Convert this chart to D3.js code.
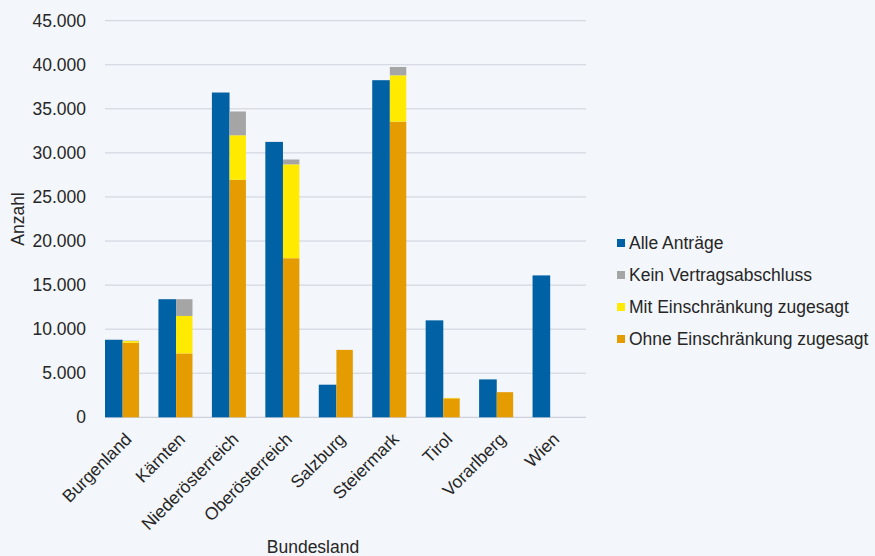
<!DOCTYPE html>
<html>
<head>
<meta charset="utf-8">
<script src="https://cdn.jsdelivr.net/npm/d3@7"></script>
<style>
  body { margin: 0; background: #f3f6fa; }
  svg { font-family: "Liberation Sans", Arial, sans-serif; }
</style>
</head>
<body>
<script>
// Chart data
var laender = ["Burgenland", "Kärnten", "Niederösterreich", "Oberösterreich",
    "Salzburg", "Steiermark", "Tirol", "Vorarlberg", "Wien"];
var alleAntraege = [8800, 13400, 36850, 31250, 3700, 38250, 11000, 4300, 16100];
var ohneEinschraenkung = [8450, 7250, 26950, 18050, 7650, 33550, 2150, 2850, 0];
var mitEinschraenkung = [200, 4250, 5050, 10650, 0, 5250, 50, 0, 0];
var keinVertrag = [50, 1900, 2700, 550, 0, 950, 0, 0, 0];
var yTicks = [0, 5000, 10000, 15000, 20000, 25000, 30000, 35000, 40000, 45000];
var legendLabels = ["Alle Anträge", "Kein Vertragsabschluss",
    "Mit Einschränkung zugesagt", "Ohne Einschränkung zugesagt"];

var colors = {
    alle: "#0062a5",
    kein: "#a5a5a5",
    mit: "#ffea00",
    ohne: "#e59c00"
};

var width = 875,
    height = 556;
var margin = { top: 20.7, left: 105, right: 289, bottom: 138.7 };
var fontSize = 17.5;

var svg = d3.select("body")
    .append("svg")
    .attr("width", width)
    .attr("height", height);

svg.append("rect")
    .attr("width", width)
    .attr("height", height)
    .attr("fill", "#f3f6fa");

var x = d3.scaleBand()
    .domain(laender)
    .range([margin.left, width - margin.right]);

var y = d3.scaleLinear()
    .domain([0, 45000])
    .range([height - margin.bottom, margin.top]);

var barW = x.bandwidth() * 0.33;

var fmt = function(d) { return d3.format(",")(d).replace(/,/g, "."); };

// Gridlines
svg.append("g")
    .selectAll("line")
    .data(yTicks)
    .enter().append("line")
        .attr("x1", x.range()[0])
        .attr("x2", x.range()[1])
        .attr("y1", function(d) { return y(d); })
        .attr("y2", function(d) { return y(d); })
        .attr("stroke", function(d) { return d === 0 ? "#c3c8d4" : "#cdd1dc"; })
        .attr("stroke-width", 1);

// Y axis labels
var yAxis = svg.append("g")
    .attr("transform", "translate(" + (margin.left - 16) + ",0)")
    .call(d3.axisLeft(y).tickValues(yTicks).tickSize(0).tickFormat(fmt));
yAxis.select(".domain").remove();
yAxis.selectAll("text")
    .attr("font-size", fontSize)
    .attr("fill", "#262626")
    .attr("font-family", "Liberation Sans, Arial, sans-serif");

// Blue bars
svg.append("g")
    .selectAll("rect")
    .data(laender)
    .enter().append("rect")
        .attr("x", function(d) { return x(d); })
        .attr("width", barW)
        .attr("y", function(d, i) { return y(alleAntraege[i]); })
        .attr("height", function(d, i) { return y(0) - y(alleAntraege[i]); })
        .attr("fill", colors.alle);

// Stacked bars
var rows = laender.map(function(d, i) {
    return { land: d, ohne: ohneEinschraenkung[i], mit: mitEinschraenkung[i], kein: keinVertrag[i] };
});
var stack = d3.stack().keys(["ohne", "mit", "kein"])(rows);

svg.append("g")
    .selectAll("g")
    .data(stack)
    .enter().append("g")
        .attr("fill", function(s) { return colors[s.key]; })
    .selectAll("rect")
    .data(function(s) { return s; })
    .enter().append("rect")
        .attr("x", function(d) { return x(d.data.land) + barW; })
        .attr("width", barW * 0.93)
        .attr("y", function(d) { return y(d[1]); })
        .attr("height", function(d) { return y(d[0]) - y(d[1]); });

// X labels rotated
svg.append("g")
    .selectAll("text")
    .data(laender)
    .enter().append("text")
        .attr("transform", function(d) {
            return "translate(" + (x(d) + x.bandwidth() * 0.5 + 1) + "," + (y(0) + 23) + ") rotate(-45)";
        })
        .attr("text-anchor", "end")
        .attr("font-size", fontSize)
        .attr("fill", "#262626")
        .text(function(d) { return d; });

// Axis titles
svg.append("text")
    .attr("transform", "translate(24," + ((y(0) + y(45000)) / 2) + ") rotate(-90)")
    .attr("text-anchor", "middle")
    .attr("font-size", fontSize)
    .attr("fill", "#262626")
    .text("Anzahl");

svg.append("text")
    .attr("x", 313)
    .attr("y", 553)
    .attr("text-anchor", "middle")
    .attr("font-size", fontSize)
    .attr("fill", "#262626")
    .text("Bundesland");

// Legend
var legendColors = [colors.alle, colors.kein, colors.mit, colors.ohne];
var legend = svg.append("g")
    .attr("transform", "translate(617,243)");

var item = legend.selectAll("g")
    .data(legendLabels)
    .enter().append("g")
        .attr("transform", function(d, i) { return "translate(0," + (i * 32) + ")"; });

item.append("rect")
    .attr("x", 0)
    .attr("y", -4)
    .attr("width", 8)
    .attr("height", 8)
    .attr("fill", function(d, i) { return legendColors[i]; });

item.append("text")
    .attr("x", 12)
    .attr("y", 0)
    .attr("dy", "0.35em")
    .attr("font-size", fontSize)
    .attr("fill", "#262626")
    .text(function(d) { return d; });
</script>
</body>
</html>
